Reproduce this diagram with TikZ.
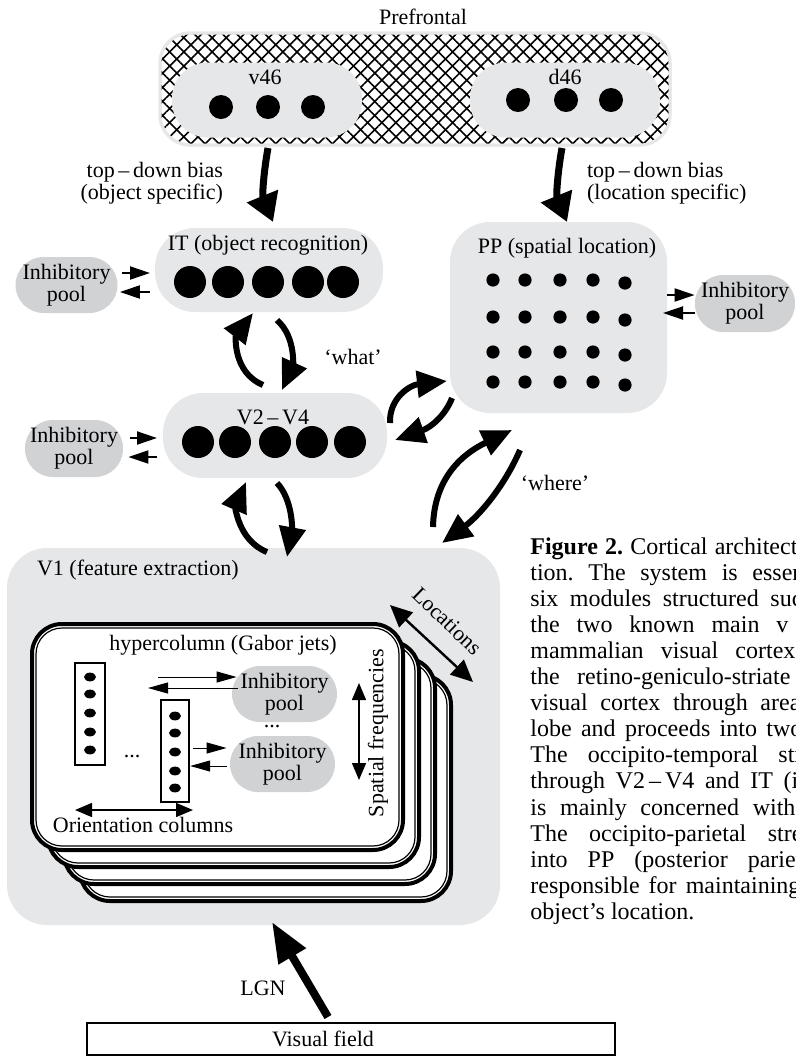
\documentclass[tikz,border=0pt]{standalone}
\usepackage{fontspec}
\setmainfont{Liberation Serif}
\usetikzlibrary{arrows.meta,patterns.meta}
\definecolor{areagray}{RGB}{230,231,232}
\definecolor{poolgray}{RGB}{209,210,212}
\frenchspacing

\begin{document}
\begin{tikzpicture}[x=0.5pt,y=-0.5pt]
\tikzset{area/.style = {fill=areagray, inner sep=0pt, outer sep=0pt},
  pool/.style = {fill=poolgray, rounded corners=14pt, minimum width=51pt, minimum height=28pt, inner sep=0pt, align=center},
  tdedge/.style = {-{Triangle[length=14pt,width=16pt]}, line width=3.5pt},
  loopedge/.style = {-{Triangle[length=15pt,width=13pt]}, line width=3pt},
  inhedge/.style = {-{Triangle[length=10pt,width=6.5pt]}, line width=1pt},
  thinedge/.style = {-{Triangle[length=10pt,width=5.5pt]}, line width=0.5pt},
  rangeedge/.style = {{Triangle[length=8.5pt,width=7pt]}-{Triangle[length=8.5pt,width=7pt]}, line width=0.7pt},
  card/.style = {draw, fill=white, line width=2pt, rounded corners=15pt, minimum width=185.5pt, minimum height=113pt, outer sep=0pt},
  column/.style = {draw, line width=1.2pt, minimum height=51pt, inner sep=0pt}}
\tikzstyle{every node}=[font=\fontsize{11}{10.8}\selectfont]
\useasboundingbox (0,0) rectangle (796,1056);

% prefrontal
\node [draw=areagray, line width=1.5pt, fill=white, rounded corners=15pt, minimum width=255pt, minimum height=56pt, inner sep=0pt, outer sep=0pt] at (415,89)(pfc) {};
\fill [pattern={Lines[angle=45,distance=5pt,line width=0.8pt]}, rounded corners=15pt] (pfc.north west) rectangle (pfc.south east);
\fill [pattern={Lines[angle=-45,distance=5pt,line width=0.8pt]}, rounded corners=15pt] (pfc.north west) rectangle (pfc.south east);
\draw [areagray, line width=1.5pt, rounded corners=15pt] (pfc.north west) rectangle (pfc.south east);
\node at (423,17)(pfclabel) {Prefrontal};
\node [area, rounded corners=18pt, minimum width=95pt, minimum height=37.5pt] at (267,100)(v46) {};
\node at (265,77)(v46label) {v46};
\foreach \x in {221,268,313} \fill (\x,107) circle (6pt);
\node [area, rounded corners=18pt, minimum width=95pt, minimum height=37.5pt] at (565,100)(d46) {};
\node at (565,77)(d46label) {d46};
\foreach \x in {518,566,611} \fill (\x,100) circle (6pt);

% ventral stream
\node [area, rounded corners=20pt, minimum width=114pt, minimum height=42pt] at (269,270)(IT) {};
\node at (268,245)(ITlabel) {IT (object recognition)};
\foreach \x in {190,228,268,308,343} \fill (\x,282) circle (8pt);
\node [pool] at (66.5,285)(itpool) {Inhibitory\\pool};
\draw [inhedge] ([shift={(4,-12)}]itpool.east) -- ([shift={(-5,3)}]IT.west);
\draw [inhedge] ([shift={(-5,22)}]IT.west) -- ([shift={(2,7)}]itpool.east);

\node [area, rounded corners=20pt, minimum width=112pt, minimum height=42.5pt] at (275,435.5)(V2) {};
\node at (273,417)(V2label) {V2\,--\,V4};
\foreach \x in {198,235,275,312,350} \fill (\x,442) circle (8pt);
\node [pool, minimum width=49pt, minimum height=28.5pt] at (74,448.5)(v2pool) {Inhibitory\\pool};
\draw [inhedge] ([shift={(7,-10.5)}]v2pool.east) -- ([shift={(-6,2.5)}]V2.west);
\draw [inhedge] ([shift={(-6,21.5)}]V2.west) -- ([shift={(5,8.5)}]v2pool.east);

% dorsal stream
\node [area, rounded corners=20pt, minimum width=108.5pt, minimum height=95.5pt] at (558.5,317.5)(PP) {};
\node at (567,248)(PPlabel) {PP (spatial location)};
\foreach \y in {280,317,352,382} {
  \foreach \x in {493,525,560,593} \fill (\x,\y) circle (3.3pt);
  \fill (625,\y+3) circle (3.3pt);
}
\node [pool, minimum width=50pt, minimum height=28.5pt] at (745,303.5)(pppool) {Inhibitory\\pool};
\draw [inhedge] ([shift={(0,-22.5)}]PP.east) -- ([shift={(0,-8.5)}]pppool.west);
\draw [inhedge] ([shift={(0,9.5)}]pppool.west) -- ([shift={(-4,-4.5)}]PP.east);

% V1
\node [area, rounded corners=20pt, minimum width=246.5pt, minimum height=188.5pt] at (253.5,736.5)(V1) {};
\node [anchor=west] at (30,570)(V1label) {V1 (feature extraction)};
\foreach \k in {3,2,1,0} {
  \node [card] at (217.5+16*\k,737+17*\k)(card\k) {};
  \draw [line width=0.6pt, rounded corners=13pt] ([shift={(4,4)}]card\k.north west) rectangle ([shift={(-4,-4)}]card\k.south east);
}
\node at (223,645)(hclabel) {hypercolumn (Gabor jets)};
\node [column, minimum width=15pt] at (90,714)(col1) {};
\foreach \y in {677,694,713,732,750} \fill (90,\y) ellipse (3pt and 2.2pt);
\node [column, minimum width=14pt] at (175,751)(col2) {};
\foreach \y in {716,733,752,771,788} \fill (175,\y) ellipse (3pt and 2.2pt);
\node at (132,756)(coldots) {...};
\node [pool, minimum width=52.5pt] at (284.5,694)(poolA) {Inhibitory\\pool};
\node [pool, minimum width=52.5pt] at (282.5,764)(poolB) {Inhibitory\\pool};
\node at (272,726)(pooldots) {...};
\coordinate (hA) at (158,677);
\coordinate (hB) at (148,688);
\draw [thinedge] (hA) -- ([shift={(5,-17)}]poolA.west);
\draw [thinedge] ([shift={(6,-6)}]poolA.west) -- (hB);
\draw [thinedge] ([shift={(3,-3)}]col2.east) -- ([shift={(-3,-16)}]poolB.west);
\draw [thinedge] ([shift={(-3,2)}]poolB.west) -- ([shift={(0,15)}]col2.east);
\coordinate (sfTop) at (359,683);
\coordinate (sfBot) at (359,780);
\draw [rangeedge] (sfTop) -- (sfBot);
\node [rotate=90] at (378,733)(sflabel) {Spatial frequencies};
\coordinate (orLeft) at (75,810);
\coordinate (orRight) at (193,810);
\draw [rangeedge] (orLeft) -- (orRight);
\node at (143,825)(orlabel) {Orientation columns};
\coordinate (locA) at (390,605);
\coordinate (locB) at (473,682);
\draw [{Triangle[length=11pt,width=10pt]}-{Triangle[length=11pt,width=10pt]}, line width=1.2pt] (locA) -- (locB);
\node [rotate=-44] at (447,621)(loclabel) {Locations};

% top-down bias
\draw [tdedge] ([shift={(-147,3)}]pfc.south) .. controls (264,170) and (262,195) .. ([shift={(4,-6)}]IT.north);
\draw [tdedge] ([shift={(147,3)}]pfc.south) .. controls (558,170) and (556,195) .. ([shift={(8.5,0)}]PP.north);
\node [anchor=east, align=right] at (230,183)(tdleft) {top\,--\,down bias\\(object specific)};
\node [anchor=west, align=left] at (580,183)(tdright) {top\,--\,down bias\\(location specific)};

% feedforward / feedback loops
\draw [loopedge] ([shift={(-12,-8)}]V2.north) .. controls (232,372) and (236,335) .. ([shift={(-16,1)}]IT.south);
\draw [loopedge] ([shift={(8,8)}]IT.south) .. controls (297,338) and (292,368) .. ([shift={(7,-3)}]V2.north);
\node at (353,357)(what) {‘what’};
\draw [loopedge] ([shift={(13.5,4)}]V1.north) .. controls (237,540) and (236,505) .. ([shift={(-29,4)}]V2.south);
\draw [loopedge] ([shift={(2,5)}]V2.south) .. controls (293,500) and (292,530) .. ([shift={(33.5,9)}]V1.north);
\draw [loopedge] ([shift={(3,-12.5)}]V2.east) .. controls (389,398) and (410,385) .. ([shift={(-3,-32)}]PP.south west);
\draw [loopedge] ([shift={(2,-15)}]PP.south west) .. controls (446,414) and (432,427) .. ([shift={(8,4.5)}]V2.east);
\draw [loopedge] ([shift={(-67,-21)}]V1.north east) .. controls (434,480) and (460,455) .. ([shift={(-46.5,17)}]PP.south);
\draw [loopedge] ([shift={(-38.5,37)}]PP.south) .. controls (505,485) and (480,515) .. ([shift={(-58,-5)}]V1.north east);
\node at (555,483)(where) {‘where’};

% input
\node [draw, line width=1pt, minimum width=264pt, minimum height=16pt, inner sep=0pt] at (351,1039)(vf) {};
\node at (323,1039)(vflabel) {Visual field};
\draw [-{Triangle[length=20pt,width=15pt]}, line width=4pt] ([shift={(-23,-5)}]vf.north) -- ([shift={(18.5,-3)}]V1.south);
\node at (263,988)(lgn) {LGN};

% caption
\foreach \w/\txt [count=\i from 0] in {133.5/{\textbf{Figure 2.} Cortical architect},
  137/{tion. The system is essen}, 136/{six modules structured suc},
  129/{the two known main v}, 132.5/{mammalian visual cortex},
  130/{the retino-geniculo-striate}, 135/{visual cortex through area},
  136/{lobe and proceeds into two}, 136/{The occipito-temporal str},
  134/{through V2\,--\,V4 and IT (i}, 132.5/{is mainly concerned with},
  136/{The occipito-parietal stre}, 136/{into PP (posterior pariet},
  135/{responsible for maintaining}}
  \node [anchor=base west, inner sep=0pt, font=\fontsize{12}{13}\selectfont] at (530,554+26.1*\i)(cap\i) {\makebox[\w pt][s]{\txt}};
\node [anchor=base west, inner sep=0pt, font=\fontsize{12}{13}\selectfont] at (530,919.5)(caplast) {object’s location.};
\end{tikzpicture}
\end{document}
